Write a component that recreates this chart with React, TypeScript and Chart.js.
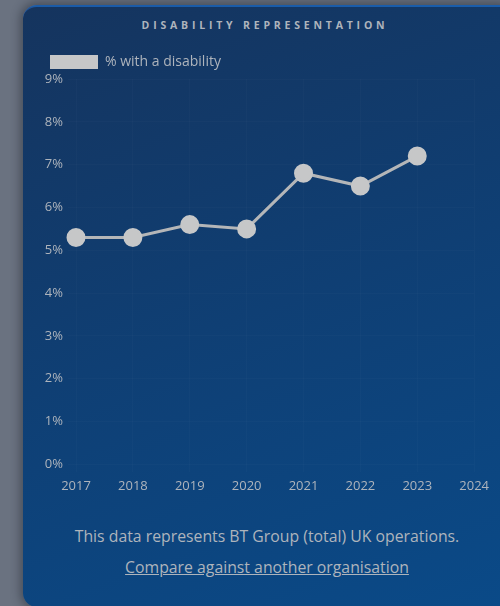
import React, { useEffect, useRef } from "react";
import { Chart, registerables } from "chart.js";

Chart.register(...registerables);

const years = ["2017", "2018", "2019", "2020", "2021", "2022", "2023", "2024"];
const disabilityPct: (number | null)[] = [5.3, 5.3, 5.6, 5.5, 6.8, 6.5, 7.2, null];
const seriesLabel = "% with a disability";
const titleText = "DISABILITY REPRESENTATION";
const footerText = "This data represents BT Group (total) UK operations.";
const linkText = "Compare against another organisation";

const textColor = "#aeb4bc";
const FONT = "'Open Sans', sans-serif";

export default function App() {
  const canvasRef = useRef<HTMLCanvasElement | null>(null);

  useEffect(() => {
    if (!canvasRef.current) return;
    const chart = new Chart(canvasRef.current, {
      type: "line",
      data: {
        labels: years,
        datasets: [
          {
            label: seriesLabel,
            data: disabilityPct,
            borderColor: "#b4b6b8",
            backgroundColor: "#c6c7c8",
            pointBackgroundColor: "#c6c7c8",
            pointBorderColor: "#c6c7c8",
            borderWidth: 3,
            pointRadius: 8,
            pointHoverRadius: 8,
            tension: 0,
          },
        ],
      },
      options: {
        animation: false,
        responsive: false,
        maintainAspectRatio: false,
        layout: { padding: { left: 0, right: 0, top: 0, bottom: 0 } },
        plugins: {
          tooltip: { enabled: false },
          legend: {
            position: "top",
            align: "start",
            labels: {
              boxWidth: 48,
              boxHeight: 14,
              padding: 10,
              color: textColor,
              font: { family: FONT, size: 14 },
              generateLabels: (c: any) => [
                {
                  text: seriesLabel,
                  fillStyle: "#c6c7c8",
                  strokeStyle: "#c6c7c8",
                  lineWidth: 0,
                  hidden: false,
                  datasetIndex: 0,
                  fontColor: textColor,
                },
              ],
            },
          },
        },
        scales: {
          x: {
            grid: { color: "rgba(255,255,255,0.02)", drawTicks: true, tickLength: 8 },
            border: { display: false },
            ticks: { color: textColor, font: { family: FONT, size: 13 }, padding: 6, maxRotation: 0 },
          },
          y: {
            min: 0,
            max: 9,
            afterFit: (s: any) => {
              s.width = 36;
            },
            grid: { color: "rgba(255,255,255,0.02)", drawTicks: true, tickLength: 8 },
            border: { display: false },
            ticks: {
              stepSize: 1,
              color: textColor,
              font: { family: FONT, size: 13 },
              padding: 5,
              callback: (v: any) => v + "%",
            },
          },
        },
      },
    });
    return () => chart.destroy();
  }, []);

  return (
    <div
      style={{
        position: "fixed",
        left: 0,
        top: 0,
        width: 500,
        height: 606,
        overflow: "hidden",
        background: "#6a7280",
        fontFamily: FONT,
      }}
    >
      <div
        style={{
          position: "absolute",
          left: 23,
          top: 5,
          width: 490,
          height: 600,
          borderRadius: 14,
          background: "linear-gradient(160deg, #15345e 0%, #0f3f74 50%, #0a4a88 100%)",
          borderTop: "2px solid rgba(40,110,200,0.55)",
          boxShadow: "0 0 10px 3px rgba(30,35,45,0.45)",
        }}
      />
      <div
        style={{
          position: "absolute",
          left: 23,
          width: 484,
          top: 18,
          textAlign: "center",
          color: textColor,
          fontSize: 10.5,
          fontWeight: 700,
          letterSpacing: 3.8,
        }}
      >
        {titleText}
      </div>
      <canvas
        ref={canvasRef}
        width={455}
        height={455}
        style={{ position: "absolute", left: 40, top: 45, width: 455, height: 455 }}
      />
      <div
        style={{
          position: "absolute",
          left: 23,
          width: 488,
          top: 525,
          textAlign: "center",
          color: textColor,
          fontSize: 15.8,
        }}
      >
        {footerText}
      </div>
      <div
        style={{
          position: "absolute",
          left: 23,
          width: 488,
          top: 556,
          textAlign: "center",
          color: textColor,
          fontSize: 15.8,
          textDecoration: "underline",
        }}
      >
        {linkText}
      </div>
    </div>
  );
}
